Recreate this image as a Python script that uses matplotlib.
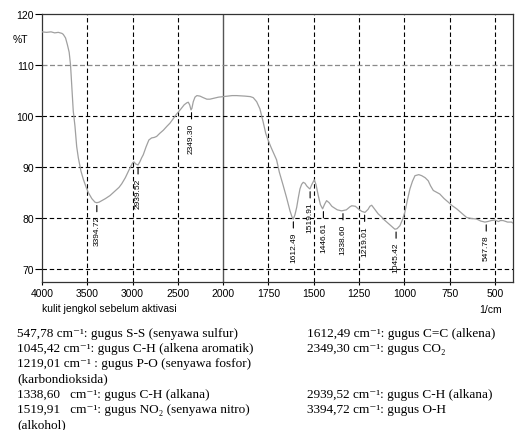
import numpy as np
import matplotlib
matplotlib.use("Agg")
import matplotlib.pyplot as plt

plt.rcParams['font.family'] = ['Liberation Sans', 'DejaVu Sans']

# spectrum (wavenumber 1/cm, %T)
wavenumber = [4000, 3950, 3900, 3860, 3820, 3780, 3765, 3740, 3720, 3700, 3685, 3670,
              3655, 3636, 3617, 3599, 3570, 3544, 3510, 3489, 3450, 3415, 3395, 3370,
              3341, 3300, 3249, 3200, 3150, 3120, 3080, 3040, 3000, 2985, 2965, 2940,
              2920, 2900, 2882, 2850, 2820, 2790, 2760, 2734, 2700, 2661, 2620, 2587,
              2550, 2513, 2470, 2430, 2400, 2385, 2370, 2355, 2345, 2330, 2311, 2290,
              2256, 2220, 2180, 2146, 2100, 2050, 2000, 1950, 1926, 1880, 1850, 1834,
              1815, 1797, 1779, 1765, 1751, 1735, 1720, 1705, 1690, 1668, 1650, 1631,
              1620, 1613, 1604, 1594, 1585, 1576, 1567, 1558, 1548, 1539, 1528, 1521,
              1510, 1497, 1487, 1475, 1463, 1451, 1440, 1429, 1415, 1400, 1392, 1370,
              1346, 1320, 1300, 1290, 1270, 1254, 1235, 1217, 1200, 1190, 1180, 1165,
              1144, 1125, 1116, 1097, 1075, 1052, 1040, 1024, 1010, 997, 983, 969,
              955, 941, 920, 904, 885, 868, 855, 840, 820, 804, 780, 757,
              735, 711, 685, 656, 630, 601, 578, 555, 540, 520, 500, 480,
              470, 455, 430, 408, 400]
transmittance = [116.5, 116.4, 116.5, 116.3, 116.4, 116.2, 116.0, 115.3, 114.0, 112.5, 110.0, 105.5,
                 101.0, 98.0, 94.0, 91.8, 89.2, 87.6, 85.9, 85.0, 83.8, 83.1, 83.0, 83.1,
                 83.4, 83.8, 84.4, 85.2, 86.0, 86.7, 87.9, 89.4, 90.8, 91.0, 90.6, 90.4,
                 91.0, 91.8, 92.4, 94.0, 95.3, 95.7, 95.8, 96.0, 96.6, 97.2, 98.0, 98.6,
                 99.5, 100.4, 101.3, 102.2, 102.6, 102.7, 102.2, 101.2, 101.5, 102.8, 103.7, 104.0,
                 103.9, 103.6, 103.3, 103.3, 103.5, 103.7, 103.8, 104.0, 104.0, 103.9, 103.8, 103.6,
                 102.8, 101.4, 98.8, 96.6, 95.2, 93.8, 92.6, 91.4, 89.0, 86.3, 84.0, 81.4,
                 80.2, 79.8, 80.6, 82.1, 84.0, 85.7, 86.6, 87.0, 86.8, 86.3, 85.9, 85.7,
                 86.6, 87.5, 86.5, 84.4, 82.6, 81.8, 82.7, 83.4, 83.0, 82.3, 82.1, 81.6,
                 81.4, 81.6, 82.2, 82.4, 82.3, 81.8, 81.3, 81.1, 81.7, 82.3, 82.5, 81.8,
                 80.8, 80.2, 79.8, 79.2, 78.5, 77.8, 77.9, 78.5, 79.7, 81.1, 83.5, 85.7,
                 87.2, 88.3, 88.5, 88.3, 87.9, 87.3, 86.3, 85.4, 85.0, 84.7, 83.8, 83.1,
                 82.4, 81.8, 81.0, 80.1, 79.9, 79.8, 79.4, 79.2, 79.3, 79.5, 79.6, 79.3,
                 79.5, 79.5, 79.2, 79.2, 79.0]

peak_wn = [3394.72, 2939.52, 2349.30, 1612.49, 1519.91, 1446.61, 1338.60, 1219.01, 1045.42, 547.78]
peak_t = [83.0, 90.4, 101.2, 79.8, 85.7, 81.8, 81.4, 81.1, 77.8, 79.2]

x_ticks = [4000, 3500, 3000, 2500, 2000, 1750, 1500, 1250, 1000, 750, 500]
y_ticks = [70, 80, 90, 100, 110, 120]

notes_left = [
    "547,78 cm⁻¹: gugus S-S (senyawa sulfur)",
    "1045,42 cm⁻¹: gugus C-H (alkena aromatik)",
    "1219,01 cm⁻¹ : gugus P-O (senyawa fosfor)",
    "(karbondioksida)",
    "1338,60   cm⁻¹: gugus C-H (alkana)",
    "1519,91   cm⁻¹: gugus NO₂ (senyawa nitro)",
    "(alkohol)",
]
notes_right = [
    "1612,49 cm⁻¹: gugus C=C (alkena)",
    "2349,30 cm⁻¹: gugus CO₂",
    "", "",
    "2939,52 cm⁻¹: gugus C-H (alkana)",
    "3394,72 cm⁻¹: gugus O-H",
    "",
]


# Shimadzu style axis: below 2000 1/cm the scale is doubled
def fwd(w):
    w = np.asarray(w, dtype=float)
    return np.where(w >= 2000, w, 2 * w - 2000)


def inv(p):
    p = np.asarray(p, dtype=float)
    return np.where(p >= 2000, p, (p + 2000) / 2)


W, H = 517, 431
fig = plt.figure(figsize=(W / 100, H / 100), dpi=100)
ax = fig.add_axes([42 / W, 1 - 283 / H, 471 / W, 268 / H])
ax.set_xscale('function', functions=(fwd, inv))
ax.set_xlim(4000, 400)
ax.set_ylim(67.45, 120)

for v in x_ticks:
    if v == 2000:
        ax.axvline(v, color='#555555', lw=1.0, zorder=1)
    elif v != 4000:
        ax.axvline(v, color='black', lw=0.8, ls=(0, (4, 2.5)), zorder=1)
for v in y_ticks:
    if v == 110:
        ax.axhline(v, color='#8a8a8a', lw=0.9, ls=(0, (4, 2)), zorder=1)
    elif v != 120:
        ax.axhline(v, color='black', lw=0.8, ls=(0, (4, 2.5)), zorder=1)

ax.plot(wavenumber, transmittance, color='#a0a0a0', lw=0.9, zorder=3)

for w, t in zip(peak_wn, peak_t):
    ax.annotate(f"{w:.2f}", xy=(w, t), xytext=(0, -9), textcoords='offset points',
                rotation=90, ha='center', va='top', fontsize=6,
                arrowprops=dict(arrowstyle='-', relpos=(0.5, 1.0), shrinkA=0.5,
                                shrinkB=2, lw=0.8, color='black'), zorder=4)

ax.set_xticks(x_ticks)
ax.set_xticklabels([str(v) for v in x_ticks])
ax.set_yticks(y_ticks)
ax.minorticks_off()
ax.tick_params(axis='x', length=2.5, width=0.8, pad=1.5, labelsize=7.5)
ax.tick_params(axis='y', length=5, width=0.8, pad=1, labelsize=7.5)
for s in ax.spines.values():
    s.set_color('#333333')
    s.set_linewidth(0.9)

fig.text(13 / W, 1 - 40 / H, "%T", fontsize=7.5, va='center')
fig.text(42 / W, 1 - 309 / H, "kulit jengkol sebelum aktivasi", fontsize=7.5, va='center')
fig.text(502 / W, 1 - 310 / H, "1/cm", fontsize=7.5, va='center', ha='right')

serif = ['Liberation Serif', 'DejaVu Serif']
for i, (a, b) in enumerate(zip(notes_left, notes_right)):
    y = 1 - (337 + i * 15.2) / H
    fig.text(17 / W, y, a, fontsize=9.5, family=serif, va='baseline')
    if b:
        fig.text(307 / W, y, b, fontsize=9.5, family=serif, va='baseline')

fig.savefig("out.png", dpi=100)
